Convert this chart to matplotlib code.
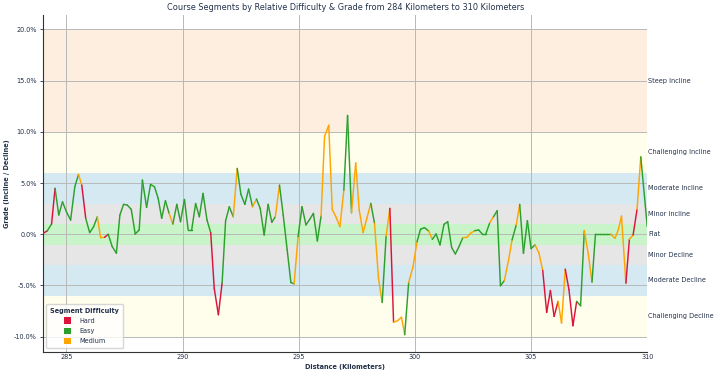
import numpy as np
import matplotlib
matplotlib.use("Agg")
import matplotlib.pyplot as plt
from matplotlib.collections import LineCollection
from matplotlib.patches import Patch
from matplotlib.ticker import FuncFormatter

# course profile
distance_km = [
    284.00, 284.17, 284.36, 284.51, 284.67, 284.83, 285.00, 285.18, 285.36, 285.52,
    285.66, 285.83, 286.00, 286.17, 286.33, 286.47, 286.64, 286.80, 286.97, 287.15,
    287.30, 287.46, 287.62, 287.79, 287.96, 288.13, 288.27, 288.45, 288.62, 288.79,
    288.95, 289.10, 289.26, 289.42, 289.58, 289.75, 289.91, 290.08, 290.24, 290.39,
    290.56, 290.72, 290.88, 291.05, 291.21, 291.36, 291.54, 291.70, 291.85, 292.01,
    292.18, 292.35, 292.51, 292.68, 292.84, 293.01, 293.18, 293.34, 293.51, 293.68,
    293.84, 293.99, 294.17, 294.33, 294.50, 294.66, 294.80, 294.97, 295.14, 295.31,
    295.47, 295.63, 295.80, 295.96, 296.11, 296.29, 296.44, 296.61, 296.77, 296.94,
    297.10, 297.27, 297.45, 297.60, 297.77, 297.93, 298.10, 298.26, 298.43, 298.59,
    298.76, 298.92, 299.08, 299.25, 299.42, 299.56, 299.73, 299.92, 300.09, 300.24,
    300.41, 300.59, 300.75, 300.91, 301.08, 301.25, 301.41, 301.58, 301.74, 301.91,
    302.06, 302.24, 302.39, 302.57, 302.74, 302.90, 303.05, 303.22, 303.38, 303.54,
    303.68, 303.85, 304.03, 304.18, 304.36, 304.51, 304.67, 304.84, 305.00, 305.17,
    305.34, 305.50, 305.67, 305.83, 305.99, 306.16, 306.31, 306.47, 306.63, 306.80,
    306.96, 307.13, 307.29, 307.46, 307.62, 307.77, 307.95, 308.12, 308.28, 308.43,
    308.61, 308.75, 308.89, 309.08, 309.23, 309.39, 309.56, 309.72, 310.00,
]
grade_pct = [
    0.10, 0.32, 1.00, 4.48, 1.88, 3.17, 2.20, 1.39, 4.64, 5.84,
    4.80, 1.56, 0.16, 0.74, 1.71, -0.33, -0.30, 0.00, -1.20, -1.85,
    1.88, 2.92, 2.85, 2.43, 0.03, 0.42, 5.29, 2.63, 4.87, 4.64,
    3.50, 1.56, 3.27, 2.04, 1.00, 2.92, 1.23, 3.40, 0.42, 0.42,
    3.00, 1.71, 3.99, 1.39, 0.16, -5.26, -7.86, -4.77, 1.30, 2.69,
    1.71, 6.43, 3.90, 2.92, 4.41, 2.69, 3.44, 2.53, -0.07, 2.92,
    1.17, 1.71, 4.80, 1.90, -1.50, -4.71, -4.84, -0.23, 2.69, 0.91,
    1.46, 2.04, -0.65, 1.78, 9.57, 10.64, 2.43, 1.65, 0.74, 4.31,
    11.60, 2.10, 6.97, 2.37, 0.16, 1.56, 3.02, 1.07, -4.28, -6.66,
    -0.17, 2.53, -8.60, -8.44, -8.10, -9.80, -4.71, -3.15, -0.72, 0.49,
    0.65, 0.32, -0.49, 0.03, -1.04, 0.97, 1.23, -1.30, -1.92, -1.14,
    -0.33, -0.30, 0.10, 0.35, 0.42, 0.03, 0.03, 1.13, 1.71, 2.30,
    -5.03, -4.52, -2.50, -0.55, 0.91, 2.92, -1.85, 1.33, -1.40, -1.04,
    -1.85, -3.54, -7.63, -5.49, -8.02, -6.56, -8.67, -3.41, -5.42, -8.93,
    -6.56, -6.98, 0.35, -1.92, -4.67, 0.00, 0.00, 0.00, 0.00, 0.00,
    -0.39, 0.42, 1.78, -4.77, -0.49, -0.07, 2.43, 7.56, 0.74,
]
# difficulty of each segment (point i -> point i+1)
segment_difficulty = [
    "Hard", "Easy", "Hard", "Easy", "Easy", "Easy", "Easy", "Easy", "Easy", "Medium",
    "Hard", "Easy", "Easy", "Easy", "Medium", "Medium", "Hard", "Easy", "Easy", "Easy",
    "Easy", "Easy", "Easy", "Easy", "Easy", "Easy", "Easy", "Easy", "Easy", "Easy",
    "Easy", "Easy", "Easy", "Medium", "Easy", "Easy", "Easy", "Easy", "Easy", "Easy",
    "Easy", "Easy", "Easy", "Easy", "Hard", "Hard", "Hard", "Easy", "Easy", "Easy",
    "Medium", "Easy", "Easy", "Easy", "Easy", "Medium", "Easy", "Easy", "Easy", "Easy",
    "Easy", "Medium", "Easy", "Easy", "Easy", "Easy", "Medium", "Easy", "Easy", "Easy",
    "Easy", "Easy", "Easy", "Medium", "Medium", "Medium", "Medium", "Medium", "Medium", "Easy",
    "Easy", "Medium", "Medium", "Medium", "Medium", "Medium", "Easy", "Medium", "Medium", "Easy",
    "Medium", "Hard", "Medium", "Medium", "Medium", "Easy", "Medium", "Medium", "Easy", "Easy",
    "Easy", "Medium", "Easy", "Easy", "Easy", "Easy", "Easy", "Easy", "Easy", "Easy",
    "Medium", "Medium", "Medium", "Easy", "Easy", "Easy", "Easy", "Medium", "Easy", "Easy",
    "Easy", "Medium", "Medium", "Easy", "Medium", "Easy", "Easy", "Easy", "Easy", "Medium",
    "Medium", "Hard", "Hard", "Hard", "Hard", "Medium", "Medium", "Hard", "Hard", "Hard",
    "Easy", "Easy", "Medium", "Medium", "Easy", "Easy", "Easy", "Easy", "Easy", "Medium",
    "Medium", "Medium", "Medium", "Hard", "Medium", "Hard", "Medium", "Easy",
]

# grade bands
band_names = ["Steep Incline", "Challenging Incline", "Moderate Incline", "Minor Incline", "Flat",
              "Minor Decline", "Moderate Decline", "Challenging Decline"]
band_low = [10, 6, 3, 1, -1, -3, -6, -10]
band_high = [20, 10, 6, 3, 1, -1, -3, -6]

band_colors = ["#fdeee0", "#fffeec", "#d4e9f1", "#e6e6e6", "#c9f3c9", "#e6e6e6", "#d4e9f1", "#fffeec"]
diff_colors = {"Hard": "#dc143c", "Easy": "#2ca02c", "Medium": "#ffa500"}
legend_order = ["Hard", "Easy", "Medium"]
txt = "#22304a"
fs = 4.7

fig = plt.figure(figsize=(7.2, 3.78), dpi=100)
ax = fig.add_axes([0.06, 0.07, 0.839, 0.89])

for lo, hi, c in zip(band_low, band_high, band_colors):
    ax.axhspan(lo, hi, color=c, lw=0, zorder=0)

x = np.array(distance_km)
y = np.array(grade_pct)
pts = np.column_stack([x, y]).reshape(-1, 1, 2)
segs = np.concatenate([pts[:-1], pts[1:]], axis=1)
lc = LineCollection(segs, colors=[diff_colors[d] for d in segment_difficulty],
                    linewidths=1.05, capstyle="round", zorder=3)
ax.add_collection(lc)

ax.set_xlim(284, 310)
ax.set_ylim(-11.45, 21.4)
ax.set_yticks([-10, -5, 0, 5, 10, 15, 20])
ax.set_xticks([285, 290, 295, 300, 305, 310])
ax.yaxis.set_major_formatter(FuncFormatter(lambda v, p: f"{v:.1f}%"))
ax.grid(True, color="#b8b8b8", lw=0.7, zorder=1)
ax.set_axisbelow(True)

for s in ["top", "right"]:
    ax.spines[s].set_visible(False)
for s in ["left", "bottom"]:
    ax.spines[s].set_color("#333333")
    ax.spines[s].set_linewidth(0.8)
ax.tick_params(labelsize=fs, colors=txt, length=2.5, width=0.6, pad=2)
ax.tick_params(axis="x", length=0)

for name, lo, hi in zip(band_names, band_low, band_high):
    ax.text(1.002, (lo + hi) / 2, name, transform=ax.get_yaxis_transform(),
            ha="left", va="center", fontsize=fs, color=txt)

ax.set_title("Course Segments by Relative Difficulty & Grade from 284 Kilometers to 310 Kilometers",
             fontsize=5.9, color=txt, pad=4)
ax.set_xlabel("Distance (Kilometers)", fontsize=fs, fontweight="bold", color=txt, labelpad=3)
ax.set_ylabel("Grade (Incline / Decline)", fontsize=fs, fontweight="bold", color=txt, labelpad=3)

handles = [Patch(facecolor=diff_colors[d], edgecolor="none", label=d) for d in legend_order]
leg = ax.legend(handles=handles, title="Segment Difficulty", loc="lower left",
                fontsize=fs, title_fontsize=fs, frameon=True, handlelength=1.1,
                handleheight=1.1, borderpad=0.6, labelspacing=0.6, handletextpad=1.3)
leg.get_title().set_fontweight("bold")
leg.get_title().set_color(txt)
for t in leg.get_texts():
    t.set_color(txt)

fig.savefig("out.png", dpi=100)
